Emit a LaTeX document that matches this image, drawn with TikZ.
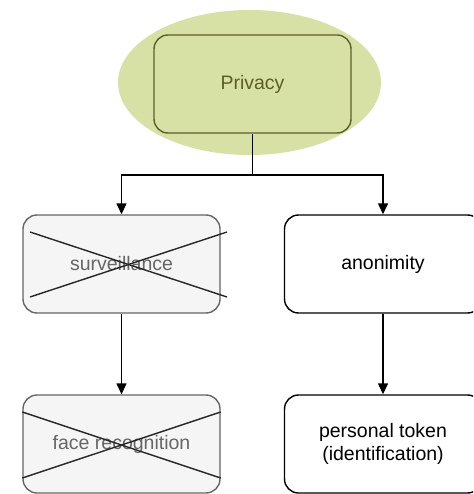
\documentclass[tikz,border=0pt]{standalone}
\usepackage{fontspec}
\setmainfont{Liberation Sans}
\usetikzlibrary{arrows.meta,calc,shapes.geometric}
\definecolor{olivefill}{HTML}{D7E0A5}
\definecolor{olivedraw}{HTML}{5C5F2A}
\definecolor{olivetext}{HTML}{5A5F25}
\definecolor{greyfill}{HTML}{F5F5F5}
\definecolor{greydraw}{HTML}{666666}
\tikzset{
  box/.style={draw=black, line width=1.4pt, rounded corners=14pt, minimum width=197pt, minimum height=98pt, align=center, inner sep=0pt, font=\fontsize{19.5}{23}\selectfont},
  crossed/.style={box, draw=greydraw, fill=greyfill, text=greydraw},
  conn/.style={line width=1.4pt, -{Triangle[length=11pt,width=10pt]}},
  xline/.style={line width=1.4pt, draw=black!85}
}
\begin{document}
\begin{tikzpicture}[x=1pt,y=-1pt]
\clip (0,0) rectangle (473,494);
\fill[white] (0,0) rectangle (473,494);
\node[ellipse, fill=olivefill, minimum width=263pt, minimum height=145pt, inner sep=0pt] (halo) at (249.5,82.5) {};
\node[box, draw=olivedraw, fill=olivefill, text=olivetext] (priv) at (252.5,84) {Privacy};
\node[crossed] (surv) at (121.5,264) {surveillance};
\node[crossed] (face) at (121.5,444) {face recognition};
\node[box] (anon) at (383,264) {anonimity};
\node[box] (token) at (383,444) {personal token\\(identification)};
% crosses
\draw[xline] (30,232) -- (227,297);
\draw[xline] (30,297) -- (227,232);
\draw[xline] (face.west |- 0,412) -- (face.east |- 0,478);
\draw[xline] (face.west |- 0,478) -- (face.east |- 0,412);
% connectors
\coordinate (split) at (252.5,175);
\draw[conn] (priv.south) -- (split) -| (surv.north);
\draw[conn] (split) -| (anon.north);
\draw[conn] (surv.south) -- (face.north);
\draw[conn] (anon.south) -- (token.north);
\end{tikzpicture}
\end{document}
